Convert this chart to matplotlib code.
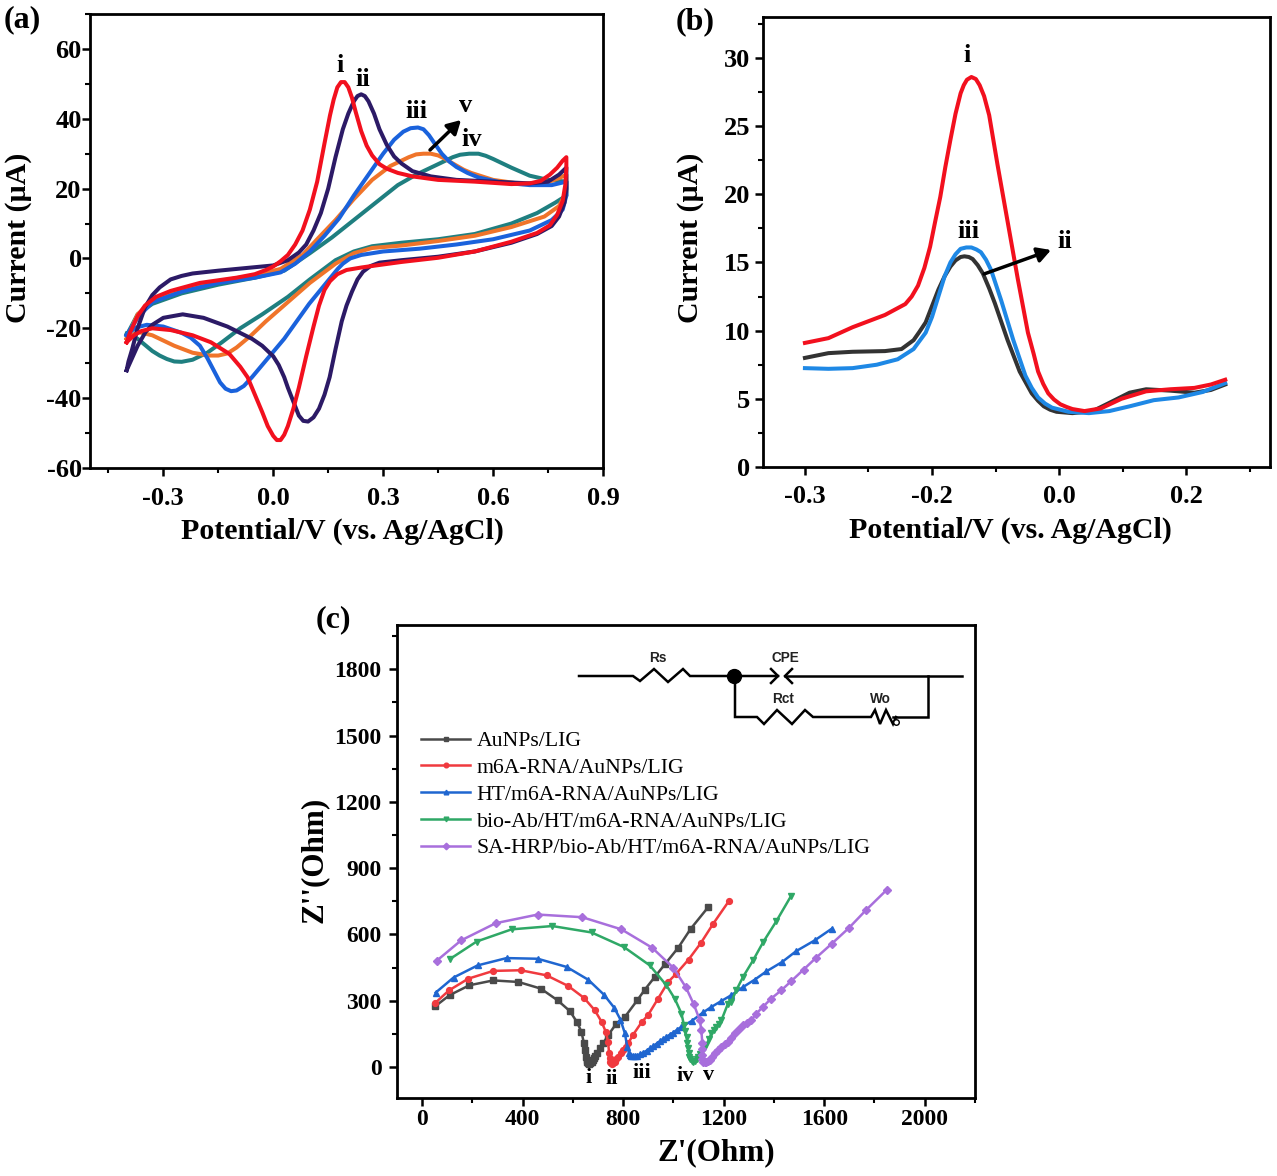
import matplotlib
matplotlib.use("Agg")
import matplotlib.pyplot as plt
from matplotlib.ticker import MultipleLocator

W, H = 1277, 1176
plt.rcParams['font.family'] = ['Liberation Serif', 'DejaVu Serif']
plt.rcParams['font.weight'] = 'bold'
plt.rcParams['axes.unicode_minus'] = False

# panel (a) cyclic voltammograms
a_red_x = [-0.4,-0.39,-0.37,-0.35,-0.32,-0.28,-0.2,-0.1,-0.05,-0.02,0,0.02,0.04,0.06,0.08,0.1,0.12,0.14,0.155,0.165,0.175,0.185,0.195,0.205,0.215,0.225,0.24,0.255,0.27,0.29,0.31,0.34,0.38,0.45,0.55,0.65,0.7,0.73,0.755,0.775,0.79,0.8,
           0.8,0.797,0.79,0.775,0.755,0.72,0.65,0.55,0.45,0.35,0.28,0.24,0.2,0.175,0.155,0.14,0.125,0.11,0.09,0.07,0.055,0.04,0.03,0.02,0.01,0,-0.015,-0.03,-0.05,-0.07,-0.09,-0.12,-0.17,-0.22,-0.28,-0.33,-0.36,-0.38,-0.4]
a_red_y = [-24,-21,-16.5,-13.5,-11,-9.3,-7,-5.5,-4.5,-3.3,-2.3,-0.8,1,4,8,14,22,33,41,45.5,49,50.5,50.5,49,46,42,36.5,32.3,29.5,27,25.7,24.5,23.5,22.5,22,21.3,21.5,22.2,24,26,28,29,
           26,21,16.5,12.5,9.5,7.3,4.8,2,0.2,-1,-2,-2.6,-3.3,-4.5,-6.5,-9,-13.5,-19.5,-28,-37,-43,-48,-50.5,-52,-52,-50.8,-48,-44,-39,-34,-31,-27.3,-24,-22,-20.5,-20,-20.8,-22,-24]
a_purple_x = [-0.4,-0.395,-0.385,-0.37,-0.35,-0.33,-0.31,-0.28,-0.25,-0.22,-0.15,-0.05,0,0.04,0.07,0.09,0.11,0.13,0.15,0.17,0.19,0.205,0.22,0.23,0.24,0.25,0.26,0.275,0.29,0.31,0.33,0.35,0.38,0.43,0.5,0.6,0.7,0.75,0.78,0.8,
              0.8,0.795,0.78,0.76,0.72,0.65,0.55,0.45,0.35,0.29,0.265,0.245,0.23,0.215,0.2,0.187,0.17,0.154,0.14,0.125,0.11,0.095,0.082,0.07,0.055,0.04,0.03,0.015,0,-0.03,-0.058,-0.125,-0.19,-0.247,-0.3,-0.33,-0.348,-0.37,-0.385,-0.4]
a_purple_y = [-32,-29.5,-26,-20,-14,-10.5,-8.3,-6,-5,-4.3,-3.5,-2.5,-2,-0.5,1.7,4,8,13,20,29,37,41.5,45,46.5,47,46.5,45,41.5,37,32.5,29.2,27.2,25,23.5,22.5,22,21.5,22,24,26,
              20,16,12,9.3,7,4.5,2,0.5,-0.5,-1.2,-2.2,-3.8,-6,-9.5,-13.5,-18,-26,-34,-39,-43,-45.5,-46.7,-46.5,-45,-41,-37,-34,-30.5,-28,-25,-23,-19.5,-17,-16,-17,-19,-21,-25,-28.5,-32]
a_blue_x = [-0.4,-0.37,-0.33,-0.25,-0.15,-0.05,0.02,0.06,0.1,0.14,0.18,0.22,0.26,0.3,0.33,0.355,0.375,0.395,0.41,0.425,0.44,0.46,0.48,0.5,0.53,0.56,0.62,0.7,0.76,0.8,
            0.8,0.79,0.76,0.7,0.6,0.5,0.4,0.3,0.24,0.21,0.19,0.176,0.098,0.03,-0.03,-0.058,-0.08,-0.1,-0.115,-0.13,-0.145,-0.16,-0.18,-0.2,-0.225,-0.25,-0.3,-0.345,-0.375,-0.39,-0.4]
a_blue_y = [-22,-17,-12.5,-9.5,-7,-5.5,-4,-1.5,2,6.5,11.5,18,24,30,34,36.3,37.3,37.5,37,35.3,33,30,27.8,26.2,24.5,23.2,21.8,21,21,22,
            18,14,11,8,5.5,4,2.8,2,1,0,-1.5,-3,-13,-23,-30.5,-34,-36.5,-37.8,-38,-37.3,-35.5,-32.5,-28.5,-25,-22.7,-21.3,-19.5,-19,-19.8,-21,-22]
a_orange_x = [-0.4,-0.37,-0.33,-0.25,-0.15,-0.05,0.02,0.08,0.12,0.17,0.22,0.27,0.32,0.37,0.39,0.41,0.43,0.45,0.47,0.49,0.52,0.54,0.6,0.68,0.74,0.78,0.8,
              0.8,0.78,0.74,0.65,0.55,0.45,0.35,0.27,0.22,0.17,0.1,0.04,-0.02,-0.06,-0.1,-0.125,-0.15,-0.175,-0.22,-0.27,-0.33,-0.37,-0.4]
a_orange_y = [-23,-16,-12,-9,-6.5,-4.8,-3,1,5.5,11,17,22.5,26.5,29,29.8,30,30,29.5,28.5,27.2,25.4,24.5,22.5,21.3,21.5,23,24,
              19,15,12,9,6.5,5,3.7,3,1.5,-1.5,-7,-12.5,-18,-22,-25.5,-27.2,-27.8,-27.8,-27,-25,-22,-21,-23]
a_teal_x = [-0.4,-0.37,-0.33,-0.25,-0.15,-0.05,0.03,0.1,0.16,0.22,0.28,0.34,0.39,0.44,0.49,0.51,0.535,0.56,0.58,0.6,0.65,0.7,0.75,0.8,
            0.8,0.77,0.72,0.65,0.55,0.45,0.35,0.27,0.22,0.17,0.1,0.04,-0.03,-0.09,-0.14,-0.18,-0.22,-0.25,-0.27,-0.29,-0.31,-0.33,-0.37,-0.4]
a_teal_y = [-22,-16,-13,-10,-7.5,-5.5,-3.5,1.5,6,11,16,21,24,26.5,29,29.7,30,30,29.4,28.5,26,23.7,22.5,22,
            18,16,13,10,7,5.5,4.5,3.5,2,-0.5,-6,-11,-16,-20,-24,-27,-29,-29.6,-29.5,-28.8,-27.8,-26.5,-23,-21.5]

# panel (b) differential pulse curves
b_red_x = [-0.4,-0.363,-0.325,-0.274,-0.242,-0.232,-0.222,-0.212,-0.203,-0.195,-0.187,-0.179,-0.171,-0.163,-0.155,-0.15,-0.145,-0.138,-0.131,-0.125,-0.118,-0.11,-0.097,-0.081,-0.065,-0.049,-0.04,-0.033,-0.025,-0.017,-0.008,0.002,0.012,0.021,0.04,0.066,0.098,0.137,0.175,0.213,0.239,0.2615]
b_red_y = [9.1,9.45,10.25,11.15,11.95,12.5,13.3,14.6,16.15,18,19.8,22,24,25.9,27.4,28,28.4,28.6,28.45,28,27.2,25.8,22.2,18,13.8,9.85,8.3,7,6.1,5.4,4.95,4.6,4.4,4.25,4.1,4.3,5,5.55,5.7,5.8,6.05,6.4]
b_black_x = [-0.4,-0.363,-0.325,-0.274,-0.248,-0.229,-0.22,-0.21,-0.2,-0.19,-0.18,-0.171,-0.163,-0.155,-0.149,-0.142,-0.136,-0.128,-0.12,-0.11,-0.101,-0.081,-0.062,-0.043,-0.033,-0.024,-0.014,-0.004,0.021,0.053,0.079,0.111,0.137,0.175,0.213,0.239,0.2615]
b_black_y = [8.0,8.35,8.45,8.5,8.65,9.3,9.9,10.6,11.8,13,14,14.7,15.15,15.4,15.45,15.4,15.25,14.8,14.2,13.1,12,9.3,7,5.4,4.85,4.45,4.2,4.05,3.95,4.1,4.7,5.45,5.7,5.6,5.45,5.65,6.05]
b_blue_x = [-0.4,-0.363,-0.325,-0.287,-0.254,-0.229,-0.21,-0.2,-0.19,-0.18,-0.171,-0.163,-0.155,-0.146,-0.138,-0.13,-0.123,-0.115,-0.107,-0.091,-0.072,-0.053,-0.043,-0.033,-0.022,-0.011,0.015,0.047,0.079,0.111,0.149,0.188,0.226,0.2615]
b_blue_y = [7.25,7.2,7.25,7.5,7.9,8.65,9.85,11,12.5,14,15,15.6,16,16.1,16.1,15.95,15.75,15.2,14.45,12.2,9.3,6.7,5.8,5.1,4.65,4.35,4.05,3.95,4.1,4.45,4.9,5.1,5.5,6.15]
b_xticks = [-0.4, -0.2, 0.0, 0.2]
b_xticklabels = ['-0.3', '-0.2', '0.0', '0.2']

# panel (c) Nyquist curves
c_labels = ['AuNPs/LIG', 'm6A-RNA/AuNPs/LIG', 'HT/m6A-RNA/AuNPs/LIG',
            'bio-Ab/HT/m6A-RNA/AuNPs/LIG', 'SA-HRP/bio-Ab/HT/m6A-RNA/AuNPs/LIG']
c_black_x = [52,109,188,283,383,472,539,588,617,634,644,648,652,655,657,660,664,669,674,679,684,689,694,707,720,740,773,807,856,886,926,966,1019,1069,1138]
c_black_y = [275,325,370,392,385,355,302,253,202,159,107,77,47,34,24,17,14,17,24,33,43,52,62,85,107,144,197,227,302,350,408,465,540,626,723]
c_red_x = [52,107,184,283,392,495,581,644,687,714,731,740,744,746,748,751,755,761,767,773,780,790,800,810,820,840,873,899,939,979,1009,1060,1109,1158,1220]
c_red_y = [290,347,400,435,438,415,367,313,257,205,159,114,62,42,24,17,14,17,24,35,47,62,77,92,107,147,202,235,310,385,420,486,561,648,750]
c_blue_x = [54,125,221,336,460,575,661,723,764,789,807,816,824,828,833,839,846,856,866,879,893,906,919,933,946,959,972,985,999,1015,1032,1072,1118,1151,1191,1230,1277,1323,1370,1432,1489,1562,1630]
c_blue_y = [337,405,460,493,490,453,395,328,269,215,152,92,62,56,51,50,50,52,57,65,74,84,95,106,117,127,137,146,156,169,182,208,247,272,299,325,362,395,433,475,525,573,626]
c_green_x = [111,217,356,518,674,803,906,972,1005,1032,1042,1047,1052,1055,1058,1060,1062,1066,1072,1078,1085,1092,1098,1106,1115,1123,1131,1141,1151,1161,1171,1181,1191,1217,1230,1250,1277,1317,1357,1409,1469]
c_green_y = [489,568,623,638,609,543,460,370,310,242,189,163,137,110,84,65,47,35,27,25,27,35,47,59,72,85,99,125,152,167,182,197,212,287,295,347,408,483,565,659,776]
c_purple_x = [58,155,293,460,637,793,915,999,1049,1081,1105,1111,1115,1115,1114,1115,1118,1125,1131,1138,1144,1154,1164,1177,1191,1204,1217,1230,1244,1260,1277,1293,1310,1330,1356,1389,1429,1469,1518,1568,1630,1698,1767,1849]
c_purple_y = [481,573,651,690,678,623,540,450,362,284,212,167,107,80,54,37,24,21,21,26,32,47,62,77,92,103,114,133,152,170,189,200,212,242,272,310,347,389,441,495,558,629,711,802]


def make_axes(left, top, right, bottom, xpad, ypad):
    ax = fig.add_axes([left / W, 1 - bottom / H, (right - left) / W, (bottom - top) / H])
    for s in ax.spines.values():
        s.set_linewidth(2.0)
    ax.tick_params(which='major', direction='out', length=6, width=1.8, labelsize=19)
    ax.tick_params(axis='x', which='major', pad=xpad)
    ax.tick_params(axis='y', which='major', pad=ypad)
    ax.tick_params(which='minor', direction='out', length=3.5, width=1.5)
    return ax


fig = plt.figure(figsize=(W / 100, H / 100), dpi=100)

# overlay in pixel coordinates for panel letters, curve tags and the circuit
ov = fig.add_axes([0, 0, 1, 1], zorder=10)
ov.set_xlim(0, W)
ov.set_ylim(H, 0)
ov.axis('off')


def tag(x, y, s, size=19):
    ov.text(x, y, s, ha='center', va='center', fontsize=size, fontweight='bold')


def arrow(x0, y0, x1, y1):
    ov.annotate('', xy=(x1, y1), xytext=(x0, y0),
                arrowprops=dict(arrowstyle='-|>,head_width=0.45,head_length=0.8', color='black', lw=2.5,
                                shrinkA=0, shrinkB=0))


def axis_labels(ax, xlabel, ylabel, xpos, ypos, size=21.5):
    ax.set_xlabel(xlabel, fontsize=size, fontweight='bold')
    ax.set_ylabel(ylabel, fontsize=size, fontweight='bold')
    ax.xaxis.set_label_coords(xpos[0], xpos[1], transform=ov.transData)
    ax.yaxis.set_label_coords(ypos[0], ypos[1], transform=ov.transData)
    ax.xaxis.label.set_va('center')
    ax.yaxis.label.set_va('center')


# (a)
ax1 = make_axes(90, 14, 603, 468, 8, 0)
lw = 2.9
ax1.plot(a_teal_x, a_teal_y, color='#1f7f80', lw=lw)
ax1.plot(a_orange_x, a_orange_y, color='#f0742a', lw=lw)
ax1.plot(a_blue_x, a_blue_y, color='#1a62dc', lw=lw)
ax1.plot(a_purple_x, a_purple_y, color='#2c1a66', lw=lw)
ax1.plot(a_red_x, a_red_y, color='#f2101e', lw=lw)
ax1.set_xlim(-0.5, 0.9)
ax1.set_ylim(-60, 70)
ax1.xaxis.set_minor_locator(MultipleLocator(0.15))
ax1.yaxis.set_major_locator(MultipleLocator(20))
ax1.yaxis.set_minor_locator(MultipleLocator(10))
ax1.set_xticks([-0.3, 0.0, 0.3, 0.6, 0.9])
ax1.set_xticklabels(['-0.3', '0.0', '0.3', '0.6', '0.9'])
axis_labels(ax1, 'Potential/V (vs. Ag/AgCl)', 'Current (µA)', (342, 531), (19, 238))
tag(22, 20, '(a)', 23)
tag(340, 65, 'i')
tag(363, 80, 'ii')
tag(416, 112, 'iii')
tag(466, 106, 'v')
tag(472, 139, 'iv')
arrow(430, 150, 461, 120)

# (b)
ax2 = make_axes(763, 17, 1270, 467, 7, 3)
ax2.plot(b_black_x, b_black_y, color='#333333', lw=lw)
ax2.plot(b_blue_x, b_blue_y, color='#1e88e5', lw=lw)
ax2.plot(b_red_x, b_red_y, color='#f2101e', lw=lw)
ax2.set_xlim(-0.466, 0.332)
ax2.set_ylim(0, 33)
ax2.set_xticks(b_xticks)
ax2.set_xticklabels(b_xticklabels)
ax2.xaxis.set_minor_locator(MultipleLocator(0.1))
ax2.yaxis.set_major_locator(MultipleLocator(5))
ax2.yaxis.set_minor_locator(MultipleLocator(2.5))
axis_labels(ax2, 'Potential/V (vs. Ag/AgCl)', 'Current (µA)', (1010, 530), (691, 238))
tag(695, 22, '(b)', 23)
tag(967, 55, 'i')
tag(968, 231, 'iii')
tag(1065, 242, 'ii')
arrow(984, 274, 1051, 250)

# (c)
ax3 = make_axes(397, 625, 975, 1098, 2, 5)
c_style = dict(lw=1.8, ms=4.2)
ax3.plot(c_black_x, c_black_y, color='#4a4a4a', marker='s', label=c_labels[0], **c_style)
ax3.plot(c_red_x, c_red_y, color='#f03a3f', marker='o', label=c_labels[1], **c_style)
ax3.plot(c_blue_x, c_blue_y, color='#1f66d0', marker='^', label=c_labels[2], **c_style)
ax3.plot(c_green_x, c_green_y, color='#2fa866', marker='v', label=c_labels[3], **c_style)
ax3.plot(c_purple_x, c_purple_y, color='#a86fdc', marker='D', label=c_labels[4], **c_style)
ax3.set_xlim(-100, 2200)
ax3.set_ylim(-140, 2000)
ax3.xaxis.set_major_locator(MultipleLocator(400))
ax3.xaxis.set_minor_locator(MultipleLocator(200))
ax3.yaxis.set_minor_locator(MultipleLocator(150))
ax3.set_yticks(range(0, 2000, 300))
ax3.tick_params(which='major', labelsize=17)
axis_labels(ax3, "Z'(Ohm)", "Z''(Ohm)", (716, 1153), (314, 860), 22.4)
ax3.legend(loc='upper left', bbox_to_anchor=(0.0415, 0.776), frameon=False,
           prop=dict(family='Liberation Serif', weight='normal', size=15.7),
           handlelength=2.25, handletextpad=0.3, labelspacing=0.3, borderpad=0, borderaxespad=0, markerscale=0.8)
tag(333, 620, '(c)', 23)
tag(589, 1078, 'i', 16)
tag(612, 1079, 'ii', 16)
tag(642, 1073, 'iii', 16)
tag(685, 1076, 'iv', 16)
tag(709, 1075, 'v', 16)

# equivalent circuit
cc = dict(color='black', lw=1.8, solid_joinstyle='miter')
ov.plot([579, 633, 640, 654, 668, 683, 690, 778], [676, 676, 681, 669, 682, 669, 676, 676], **cc)
ov.plot([771, 778, 771], [669, 676, 683], **cc)
ov.plot([792, 785, 792], [669, 676, 683], **cc)
ov.plot([785, 962], [676, 676], **cc)
ov.plot([735, 735, 757, 764, 777, 792, 805, 813, 871, 875, 880, 886, 893, 896], [676, 717, 717, 724, 710, 724, 710, 717, 717, 710, 724, 710, 724, 717], **cc)
ov.plot([893, 928, 928], [717, 717, 676], **cc)
ov.plot([734], [676], 'o', color='black', ms=10)
ov.plot([896], [722], 'o', mfc='white', mec='black', ms=4, mew=1)
for x, y, s in [(658, 658, 'Rs'), (785, 658, 'CPE'), (783, 699, 'Rct'), (880, 699, 'Wo')]:
    ov.text(x, y, s, ha='center', va='center', fontsize=9.8, family='Liberation Sans', fontweight='bold', color='#222222')

fig.savefig('out.png', dpi=100)
